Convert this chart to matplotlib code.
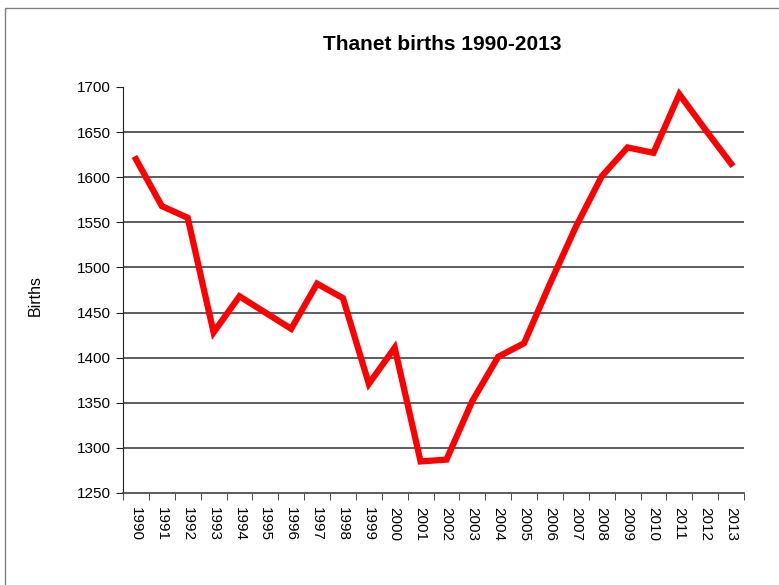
import matplotlib
matplotlib.use("Agg")
import matplotlib.pyplot as plt
from matplotlib.patches import Rectangle

years = [str(y) for y in range(1990, 2014)]
births = [1620, 1568, 1555, 1428, 1468, 1450, 1432, 1482, 1466, 1371, 1411,
          1285, 1287, 1352, 1401, 1416, 1482, 1545, 1601, 1633, 1627, 1692, 1653, 1615]
yticks = list(range(1250, 1701, 50))

plt.rcParams['font.family'] = ['Liberation Sans', 'DejaVu Sans']

fig = plt.figure(figsize=(7.79, 5.85), dpi=100)
fig.patches.append(Rectangle((5/779, -0.1), 1.2, 1 - 8/585 + 0.1, transform=fig.transFigure,
                             fill=False, edgecolor='#808080', linewidth=1))
ax = fig.add_axes([123/779, 1 - 493/585, (744 - 123)/779, (493 - 87)/585])

x = list(range(len(years)))
for v in yticks[1:-1]:
    ax.axhline(v, color='#505050', linewidth=1.3, zorder=1)
ax.plot(x, births, color='#ff0000', linewidth=4.5, solid_joinstyle='miter', zorder=3)

ax.set_xlim(-0.5, len(years) - 0.5)
ax.set_ylim(1250, 1700)
ax.set_yticks(yticks)
ax.set_yticklabels([str(v) for v in yticks], fontsize=11)
ax.set_xticks(x)
ax.set_xticklabels(years, rotation=-90, fontsize=11)
ax.set_xticks([i - 0.5 for i in range(len(years) + 1)], minor=True)
ax.tick_params(axis='x', which='major', length=0, pad=10)
ax.tick_params(axis='x', which='minor', length=5, direction='out', color='#303030')
ax.tick_params(axis='y', length=5, direction='out', color='#202020', pad=3.5)
for s in ['top', 'right']:
    ax.spines[s].set_visible(False)
ax.spines['left'].set_color('#202020')
ax.spines['bottom'].set_color('#404040')
ax.spines['bottom'].set_linewidth(1.2)

fig.text(35/779, 1 - 295/585, 'Births', rotation=90, ha='center', va='center', fontsize=11.5)
fig.text(442/779, 1 - 45/585, 'Thanet births 1990-2013', ha='center', va='center',
         fontsize=15, fontweight='bold')

fig.savefig('out.png', dpi=100)
